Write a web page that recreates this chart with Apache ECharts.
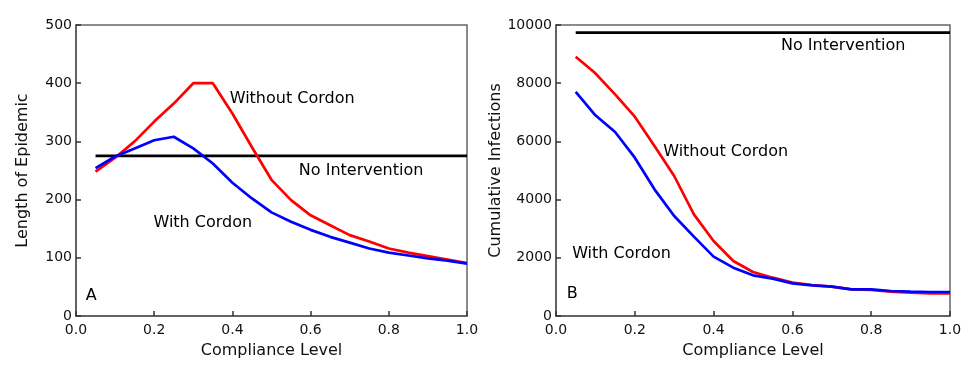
<!DOCTYPE html>
<html><head><meta charset="utf-8">
<script src="https://cdn.jsdelivr.net/npm/echarts@6/dist/echarts.min.js"></script>
<style>html,body{margin:0;padding:0;background:#fff}#c{width:973px;height:370px}</style>
</head><body><div id="c"></div>
<script>
const compliance = [0.05,0.10,0.15,0.20,0.25,0.30,0.35,0.40,0.45,0.50,0.55,0.60,0.65,0.70,0.75,0.80,0.85,0.90,0.95,1.00];
const lengthWithout = [248,272,300,334,365,400,400,348,290,234,199,173,156,139,128,116,109,103,97,91];
const lengthWith    = [254,274,288,302,308,288,262,229,202,178,162,148,136,126,116,109,104,99,95,90];
const lengthNoIntervention = 275;
const infWithout = [8912,8340,7617,6850,5842,4811,3494,2577,1890,1512,1317,1145,1065,1008,916,893,836,802,779,779];
const infWith    = [7698,6896,6323,5441,4353,3436,2726,2039,1661,1397,1283,1122,1054,1008,916,916,859,836,825,825];
const infNoIntervention = 9740;
const xTicks = [0,0.2,0.4,0.6,0.8,1.0];
const yTicksA = [0,100,200,300,400,500];
const yTicksB = [0,2000,4000,6000,8000,10000];
const annotA = [["Without Cordon",0.393,373],["No Intervention",0.57,249],["With Cordon",0.198,160],["A",0.025,34]];
const annotB = [["No Intervention",0.571,9278],["Without Cordon",0.272,5636],["With Cordon",0.041,2131],["B",0.027,756]];

const FONT = 'DejaVu Sans';
const pair = (xs, ys) => xs.map((x,i)=>[x, ys[i]]);
const flat = (v) => [[compliance[0], v],[compliance[compliance.length-1], v]];

function xAxis(gi){
  return {type:'value', gridIndex:gi, min:xTicks[0], max:xTicks[xTicks.length-1], interval:0.2,
    name:'Compliance Level', nameLocation:'middle', nameGap:27,
    nameTextStyle:{fontFamily:FONT,fontSize:16,color:'#111'},
    axisLine:{show:true,lineStyle:{color:'#555',width:1.5}},
    axisTick:{show:true,inside:true,length:5,lineStyle:{color:'#333',width:1.5}},
    axisLabel:{fontFamily:FONT,fontSize:14,color:'#111',margin:7,formatter:v=>v.toFixed(1)},
    splitLine:{show:false}};
}
function yAxis(gi, ticks, name, gap){
  return {type:'value', gridIndex:gi, min:ticks[0], max:ticks[ticks.length-1], interval:ticks[1]-ticks[0],
    name:name, nameLocation:'middle', nameGap:gap,
    nameTextStyle:{fontFamily:FONT,fontSize:16,color:'#111'},
    axisLine:{show:true,lineStyle:{color:'#555',width:1.5}},
    axisTick:{show:true,inside:true,length:5,lineStyle:{color:'#333',width:1.5}},
    axisLabel:{fontFamily:FONT,fontSize:14,color:'#111',margin:4,formatter:v=>String(v)},
    splitLine:{show:false}};
}
function line(gi, data, color){
  return {type:'line', xAxisIndex:gi, yAxisIndex:gi, data:data, symbol:'none', smooth:false,
    lineStyle:{color:color,width:2.7}, silent:true, animation:false, z:3};
}
function annot(gi, arr){
  return {type:'scatter', xAxisIndex:gi, yAxisIndex:gi, symbolSize:0, silent:true, animation:false,
    itemStyle:{opacity:1},
    data:arr.map(a=>({name:a[0], value:[a[1],a[2]]})),
    label:{show:true, position:'right', distance:0, formatter:p=>p.name,
      fontFamily:FONT, fontSize:16, color:'#000', opacity:1, textBorderWidth:0}, z:5};
}

const chart = echarts.init(document.getElementById('c'), null, {renderer:'canvas'});
chart.setOption({
  backgroundColor:'#fff',
  animation:false,
  grid:[
    {left:76, right:506, top:25, bottom:54, show:true, borderColor:'#666', borderWidth:1.5, backgroundColor:'transparent'},
    {left:556, right:23, top:25, bottom:54, show:true, borderColor:'#666', borderWidth:1.5, backgroundColor:'transparent'}
  ],
  xAxis:[xAxis(0), xAxis(1)],
  yAxis:[yAxis(0, yTicksA, 'Length of Epidemic', 45), yAxis(1, yTicksB, 'Cumulative Infections', 43)],
  series:[
    line(0, flat(lengthNoIntervention), '#000'),
    line(0, pair(compliance, lengthWithout), '#ff0000'),
    line(0, pair(compliance, lengthWith), '#0000ff'),
    annot(0, annotA),
    line(1, flat(infNoIntervention), '#000'),
    line(1, pair(compliance, infWithout), '#ff0000'),
    line(1, pair(compliance, infWith), '#0000ff'),
    annot(1, annotB)
  ]
});
</script></body></html>
